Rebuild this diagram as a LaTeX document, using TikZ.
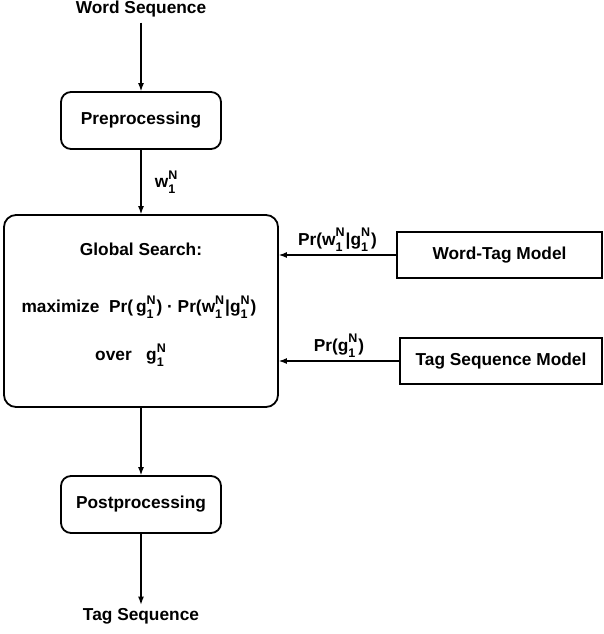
\documentclass[tikz,border=0pt]{standalone}
\usepackage{fontspec}
\setmainfont{Liberation Sans}
\usetikzlibrary{arrows.meta}
\newcommand{\seqvar}[1]{#1\makebox[10pt][l]{\fontsize{12.5}{14}\selectfont\rlap{\raisebox{8.5pt}{N}}\raisebox{-6pt}{1}}}

\begin{document}
\begin{tikzpicture}[x=1pt, y=-1pt,
        every node/.style={font=\bfseries\fontsize{17.3}{20}\selectfont},
        round box/.style={draw, rounded corners=10pt, line width=1.8pt, minimum width=160pt, minimum height=57pt},
        model box/.style={draw, line width=1.8pt, minimum height=46pt},
        flow/.style={-{Latex[length=8pt,width=6pt]}, line width=1.2pt}]
                \useasboundingbox (0,0) rectangle (604,634);
                \node at (141,9) (wordseq) {Word Sequence};
                \node[round box] at (141,120.5) (preproc) {Preprocessing};
                \node[round box, rounded corners=12pt, minimum width=274pt, minimum height=192pt] at (141,311) (search) {};
                \node at (141,249) (title) {Global Search:};
                \node at (139,307) (maxline) {maximize\ \ Pr(\,\seqvar{g}) · Pr(\seqvar{w}|\seqvar{g})};
                \node at (131,355) (overtext) {over\ \ \ \seqvar{g}};
                \node[model box, minimum width=205pt] at (499.5,255) (wordtag) {Word-Tag Model};
                \node[model box, minimum width=202pt] at (501,361) (tagseq) {Tag Sequence Model};
                \node[round box] at (141,504.5) (postproc) {Postprocessing};
                \node at (141,616) (tagout) {Tag Sequence};
                \draw [flow, shorten <=2pt] (wordseq) -- (preproc);
                \draw [flow] (preproc) -- node[right, xshift=10pt] (wlabel) {\seqvar{w}} (search);
                \draw [flow] (wordtag.west) -- node[above] (wtprob) {Pr(\seqvar{w}|\seqvar{g})} (search.east |- wordtag.west);
                \draw [flow] (tagseq.west) -- node[above] (tsprob) {Pr(\seqvar{g})} (tagseq.west -| search.east);
                \draw [flow] (search) -- (postproc);
                \draw [flow] (postproc) -- (tagout);
            \end{tikzpicture}
\end{document}
